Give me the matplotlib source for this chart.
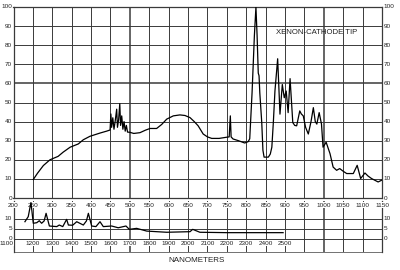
import matplotlib
matplotlib.use("Agg")
import matplotlib.pyplot as plt
from matplotlib.transforms import blended_transform_factory

plt.rcParams['font.family'] = ['Liberation Sans', 'DejaVu Sans']

# ---- data: upper panel (200-1150 nm), percent scale ----
top_nm = [251, 262, 277, 294, 315, 328, 346, 367, 380, 397, 423, 440, 449,
          451, 453, 456, 459, 462, 466, 468, 471, 474, 476, 479, 482, 485, 488,
          491, 494, 500, 510, 526, 540, 552, 569, 582, 595, 612, 629, 642, 655,
          666, 676, 689, 700, 711, 730, 749, 756, 759, 761, 766, 780, 796, 805,
          809, 815, 821, 825, 828, 831, 833, 835, 840, 843, 846, 857, 862, 866,
          870, 874, 881, 887, 893, 898, 903, 908, 913, 920, 925, 930, 938, 942,
          947, 953, 960, 967, 973, 978, 982, 988, 994, 998, 1006, 1016, 1024,
          1033, 1041, 1050, 1059, 1076, 1086, 1095, 1106, 1114, 1123, 1140, 1149]
top_val = [9.7, 13, 17, 20, 21.8, 24, 26.6, 28.3, 30.5, 32.3, 34, 35, 35.6,
           44, 37, 42, 36, 40, 46.5, 37, 41, 49.4, 38, 43, 36, 40, 35,
           38, 34.5, 34.4, 33.8, 34.2, 35.5, 36.4, 36.4, 38.5, 41.3, 43, 43.5, 43.2, 42.1,
           40, 37.8, 33.5, 32, 31.2, 31.2, 31.8, 32, 43, 32, 30.9, 30, 28.8, 29.5,
           31, 55, 85, 100, 85, 65.4, 64, 55, 39.5, 25, 21.4, 21.4, 23, 26.6,
           40, 56, 72.9, 43.9, 59.4, 52.5, 56, 44.7, 62.5, 39.5, 38, 37.8, 45.6, 44,
           43, 37, 33.5, 40, 47.3, 40, 38.7, 44.7, 38.7, 26.6, 29.2, 23.2, 16.2,
           14.5, 15.4, 14, 12.8, 12.8, 17.1, 10.2, 13.1, 11.5, 10.2, 8.4, 9.3]

# ---- data: lower panel (1100-2500 nm) ----
low_nm = [1159, 1176, 1190, 1202, 1220, 1233, 1245, 1258, 1268, 1285, 1323, 1336,
          1354, 1374, 1383, 1405, 1426, 1460, 1476, 1486, 1503, 1525, 1546, 1563,
          1606, 1640, 1680, 1697, 1735, 1787, 1890, 2010, 2024, 2061, 2200, 2300, 2490]
low_val = [8.6, 11.2, 18.4, 7.8, 8.1, 9.1, 7.8, 9, 12.9, 6.4, 6.1, 6.9,
           6.1, 9.8, 6.9, 6.8, 8.6, 6.9, 9, 12.9, 6.4, 6.1, 8.6, 6.1,
           6.4, 5.5, 6.4, 4.7, 5.2, 3.8, 3.2, 3.5, 4.7, 3.2, 3.0, 3.0, 3.0]

top_xticks = list(range(200, 1151, 50))
top_yticks = list(range(0, 101, 10))
low_xticks = list(range(1100, 2501, 100))
low_yticks = [0, 5, 10]

title_text = "XENON-CATHODE TIP"
xlabel_text = "NANOMETERS"

W, H = 400, 270
fig = plt.figure(figsize=(4, 2.7), dpi=100)
fig.patch.set_facecolor('white')

L = 13.5 / W
AW = 368.5 / W
ax = fig.add_axes([L, (H - 198) / H, AW, (198 - 7) / H])
ax2 = fig.add_axes([L, (H - 252) / H, AW, (252 - 201) / H])
ax.set_zorder(3)
ax2.set_zorder(1)

gc = '#3a3a3a'
fs = 4.6

# upper panel
ax.set_xlim(200, 1150)
ax.set_ylim(0, 100)
for xv in top_xticks:
    lw = 1.1 if xv in (500, 1000) else 0.7
    ax.axvline(xv, color=gc, lw=lw, zorder=1)
for yv in top_yticks:
    lw = 1.1 if yv == 60 else 0.7
    ax.axhline(yv, color=gc, lw=lw, zorder=1)
ax.plot(top_nm, top_val, color='black', lw=0.9, zorder=3)
ax.set_xticks([])
ax.set_yticks([])
for s in ax.spines.values():
    s.set_color(gc)
    s.set_linewidth(0.9)
for yv in top_yticks:
    ax.text(-0.004, yv, str(yv), transform=ax.get_yaxis_transform(),
            ha='right', va='center', fontsize=fs, color='#222')
    ax.text(1.005, yv, str(yv), transform=ax.get_yaxis_transform(),
            ha='left', va='center', fontsize=fs, color='#222')
ax.text(876, 86.4, title_text, ha='left', va='center', fontsize=5.6, color='#222')

# lower panel
ax2.set_xlim(1100, 3000)
ax2.set_ylim(-6.9, 19.2)
for xv in range(1100, 3001, 100):
    lw = 1.1 if xv in (1700, 2700) else 0.7
    ax2.axvline(xv, color=gc, lw=lw, zorder=1)
for yv in low_yticks:
    ax2.axhline(yv, color=gc, lw=0.7, zorder=1)
ax2.plot(low_nm, low_val, color='black', lw=0.9, zorder=4)
ax2.set_xticks([])
ax2.set_yticks([])
ax2.spines['top'].set_visible(False)
for k in ('left', 'right', 'bottom'):
    ax2.spines[k].set_color(gc)
    ax2.spines[k].set_linewidth(0.9)
ax2.spines['bottom'].set_linewidth(0.5)

# upper-panel wavelength labels sit in the band between the two panels
band = blended_transform_factory(ax.transData, ax2.transData)
for xv in top_xticks:
    ax2.text(xv, 17.0, str(xv), transform=band,
             ha='center', va='center', fontsize=fs, color='#222', clip_on=False,
             zorder=3, bbox=dict(boxstyle='square,pad=0.05', fc='white', ec='none'))
for yv in low_yticks:
    ax2.text(-0.004, yv, str(yv), transform=ax2.get_yaxis_transform(),
             ha='right', va='center', fontsize=fs, color='#222')
    ax2.text(1.005, yv, str(yv), transform=ax2.get_yaxis_transform(),
             ha='left', va='center', fontsize=fs, color='#222')
for xv in low_xticks:
    ha = 'right' if xv == 1100 else 'center'
    ax2.text(xv, -2.4, str(xv), ha=ha, va='center', fontsize=fs,
             color='#222', clip_on=False,
             bbox=dict(boxstyle='square,pad=0.05', fc='white', ec='none'))

fig.text(197 / W, (H - 261) / H, xlabel_text, ha='center', va='center',
         fontsize=5.8, color='#222')

fig.savefig('out.png', dpi=100, facecolor='white')
